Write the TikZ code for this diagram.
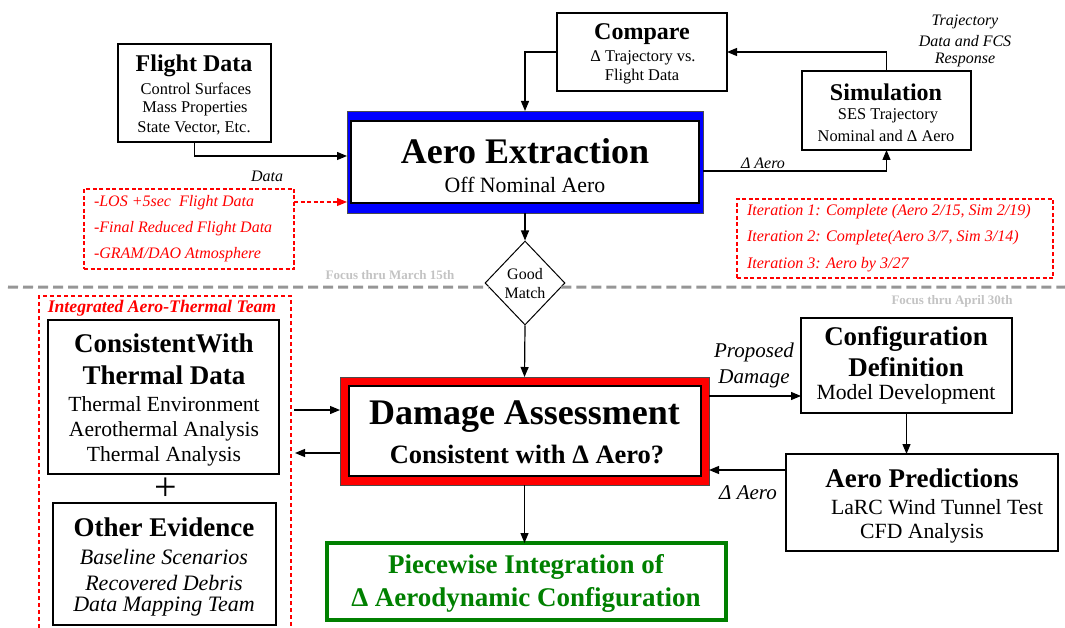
\documentclass[tikz,border=0pt]{standalone}
\usepackage{fontspec}
\setmainfont{Liberation Serif}
\usetikzlibrary{arrows.meta,shapes.geometric,calc}
\newcommand\FS[1]{\fontsize{#1}{#1}\selectfont}
\definecolor{dgreen}{RGB}{0,128,0}
\definecolor{lgray}{RGB}{150,150,150}
\definecolor{fgray}{RGB}{195,195,195}
\begin{document}
\begin{tikzpicture}[x=1pt,y=-1pt,
  box/.style={draw=black, line width=1.2pt, inner sep=0pt, outer sep=0pt, fill=white},
  tx/.style={inner sep=0pt, outer sep=0pt},
  arr/.style={line width=1.2pt, -{Triangle[length=10pt,width=8pt]}},
  rdash/.style={draw=red, line width=1.5pt, dash pattern=on 4pt off 2.5pt},
  gline/.style={draw=lgray, line width=3pt, dash pattern=on 10pt off 5pt}]
\useasboundingbox (0,0) rectangle (1065,628);

% ---- separator line and diamond
\node[draw, diamond, line width=1pt, minimum width=80, minimum height=84, inner sep=0pt, fill=white] (dm) at (525,283) {};
\node[tx, font=\FS{16}] (dm1) at (525,274) {Good};
\node[tx, font=\FS{16}] (dm2) at (525,293) {Match};
\draw[gline] (8,287) -- ($(dm.west)!0.1!(dm.south)$);
\draw[gline] ($(dm.east)!0.1!(dm.south)$) -- (1065,287);
\node[tx, font=\FS{13}\bfseries, text=fgray] (fm) at (390,275) {Focus thru March 15th};
\node[tx, font=\FS{13}\bfseries, text=fgray] (fa) at (952,301) {Focus thru April 30th};

% ---- Flight Data
\node[box, minimum width=153, minimum height=98] (fd) at (194.5,93) {};
\node[tx, font=\FS{24}\bfseries] (fdt) at (194,66) {Flight Data};
\node[tx, font=\FS{16.4}] (fd1) at (196,89) {Control Surfaces};
\node[tx, font=\FS{16.4}] (fd2) at (195,109) {Mass Properties};
\node[tx, font=\FS{16.4}] (fd3) at (194,128) {State Vector, Etc.};

% ---- Compare
\node[box, minimum width=170, minimum height=78] (cmp) at (642,52) {};
\node[tx, font=\FS{24}\bfseries] (cmpt) at (642,34) {Compare};
\node[tx, font=\FS{16.4}] (cmp1) at (643,58) {Δ Trajectory vs.};
\node[tx, font=\FS{16.4}] (cmp2) at (642,77) {Flight Data};

% ---- Simulation
\node[box, minimum width=169, minimum height=79] (sim) at (886.5,110.5) {};
\node[tx, font=\FS{24}\bfseries] (simt) at (886,92) {Simulation};
\node[tx, font=\FS{16.4}] (sim1) at (888,116) {SES Trajectory};
\node[tx, font=\FS{16.4}] (sim2) at (886,136) {Nominal and Δ Aero};
\node[tx, font=\FS{16}\itshape] (tl1) at (965,22) {Trajectory};
\node[tx, font=\FS{16}\itshape] (tl2) at (965,41) {Data and FCS};
\node[tx, font=\FS{16}\itshape] (tl3) at (965,60) {Response};

% ---- Aero Extraction
\node[draw=black!70, line width=0.6pt, fill=blue, minimum width=356, minimum height=102, inner sep=0pt, outer sep=0pt] (ae) at (525,162) {};
\node[box, line width=2pt, minimum width=348, minimum height=82] (aei) at (525,162) {};
\node[tx, font=\FS{36}\bfseries] (aet) at (525,151) {Aero Extraction};
\node[tx, font=\FS{21.8}] (ae1) at (525,185) {Off Nominal Aero};
\node[tx, font=\FS{16}\itshape] (dlab) at (267,176) {Data};
\node[tx, font=\FS{16}\itshape] (dalab) at (763,163) {Δ Aero};

% ---- red list box
\node[rdash, minimum width=210, minimum height=80, inner sep=0pt, outer sep=0pt] (rl) at (189,229) {};
\node[tx, anchor=west, font=\FS{16}\itshape, text=red] (rl1) at (94,203) {-LOS +5sec\ \ Flight Data};
\node[tx, anchor=west, font=\FS{16}\itshape, text=red] (rl2) at (94,229) {-Final Reduced Flight Data};
\node[tx, anchor=west, font=\FS{16}\itshape, text=red] (rl3) at (94,255) {-GRAM/DAO Atmosphere};

% ---- iteration box
\node[rdash, minimum width=316, minimum height=79, inner sep=0pt, outer sep=0pt] (it) at (895,238.5) {};
\node[tx, anchor=west, font=\FS{16.1}\itshape, text=red] (it1) at (747,212) {Iteration 1: Complete (Aero 2/15, Sim 2/19)};
\node[tx, anchor=west, font=\FS{16.1}\itshape, text=red] (it2) at (747,238) {Iteration 2: Complete(Aero 3/7, Sim 3/14)};
\node[tx, anchor=west, font=\FS{16.1}\itshape, text=red] (it3) at (747,265) {Iteration 3: Aero by 3/27};

% ---- integrated team
\node[tx, minimum width=252, minimum height=332] (team) at (165,462) {};
\draw[draw=red, line width=1.5pt, dash pattern=on 4pt off 3pt] (team.south west) |- (team.north east) -- (team.south east);
\node[tx, font=\FS{17.7}\bfseries\itshape, text=red] (teamt) at (162,308) {Integrated Aero-Thermal Team};
\node[box, minimum width=231, minimum height=154] (cw) at (163.5,397) {};
\node[tx, font=\FS{27}\bfseries] (cwt1) at (164,343) {ConsistentWith};
\node[tx, font=\FS{27}\bfseries] (cwt2) at (164,375) {Thermal Data};
\node[tx, font=\FS{21.6}] (cw1) at (164,404) {Thermal Environment};
\node[tx, font=\FS{21.6}] (cw2) at (164,431) {Aerothermal Analysis};
\node[tx, font=\FS{21.6}] (cw3) at (164,456) {Thermal Analysis};
\node[tx, font=\FS{40}] (plus) at (166,489) {+};
\node[box, minimum width=223, minimum height=122] (oe) at (164.5,564) {};
\node[tx, font=\FS{27}\bfseries] (oet) at (164,527) {Other Evidence};
\node[tx, font=\FS{22}\itshape] (oe1) at (164,557) {Baseline Scenarios};
\node[tx, font=\FS{22}\itshape] (oe2) at (164,583) {Recovered Debris};
\node[tx, font=\FS{22}\itshape] (oe3) at (164,607) {Data Mapping Team};

% ---- Damage Assessment
\node[draw=black!70, line width=0.6pt, fill=red, minimum width=369, minimum height=108, inner sep=0pt, outer sep=0pt] (da) at (524.5,431) {};
\node[box, line width=2pt, minimum width=352, minimum height=90] (dai) at (525,431) {};
\node[tx, font=\FS{36}\bfseries] (dat) at (524.5,417) {Damage Assessment};
\node[tx, font=\FS{26.5}\bfseries] (da1) at (527,454) {Consistent with Δ Aero?};

% ---- green box
\node[draw=dgreen, line width=4pt, minimum width=399, minimum height=77, inner sep=0pt, outer sep=0pt] (gr) at (526.5,581.5) {};
\node[tx, font=\FS{27}\bfseries, text=dgreen] (gr1) at (526,567) {Piecewise Integration of};
\node[tx, font=\FS{27}\bfseries, text=dgreen] (gr2) at (526,600) {Δ Aerodynamic Configuration};

% ---- Configuration Definition
\node[box, minimum width=211, minimum height=95] (cfg) at (906.5,365.5) {};
\node[tx, font=\FS{27}\bfseries] (cfgt1) at (906,339) {Configuration};
\node[tx, font=\FS{27}\bfseries] (cfgt2) at (906,367) {Definition};
\node[tx, font=\FS{21.7}] (cfg1) at (906,394) {Model Development};
\node[tx, font=\FS{21}\itshape] (pd1) at (754,352) {Proposed};
\node[tx, font=\FS{21}\itshape] (pd2) at (754,379) {Damage};

% ---- Aero Predictions
\node[box, minimum width=272, minimum height=97] (ap) at (922,502.5) {};
\node[tx, font=\FS{27}\bfseries] (apt) at (922,478) {Aero Predictions};
\node[tx, font=\FS{21.7}] (ap1) at (937,507) {LaRC Wind Tunnel Test};
\node[tx, font=\FS{21.7}] (ap2) at (922,533) {CFD Analysis};
\node[tx, font=\FS{21}\itshape] (dalab2) at (748,493) {Δ Aero};

% ---- connectors
\draw[arr] (fd.south) |- (ae.west |- 0,156);
\draw[arr, red, dash pattern=on 4pt off 2.5pt] (rl.east |- 0,202) -- (ae.west |- 0,202);
\draw[arr] (cmp.west) -| (ae.north);
\draw[arr] (ae.east |- 0,171) -| (sim.south);
\draw[arr] (sim.north) |- (cmp.east);
\draw[arr] (ae.south) -- (dm.north);
\draw[arr] (dm.south) -- (da.north);
\draw[arr] (da.south) -- (da.south |- gr.north);
\draw[arr] ([xshift=3pt]team.east |- 0,410) -- (da.west |- 0,410);
\draw[arr] (da.west |- 0,453) -- ([xshift=4pt]team.east |- 0,453);
\draw[arr] (da.east |- 0,396) -- (cfg.west |- 0,396);
\draw[arr] (cfg.south) -- (cfg.south |- ap.north);
\draw[arr] (ap.west |- 0,470) -- (da.east |- 0,470);
\end{tikzpicture}
\end{document}
